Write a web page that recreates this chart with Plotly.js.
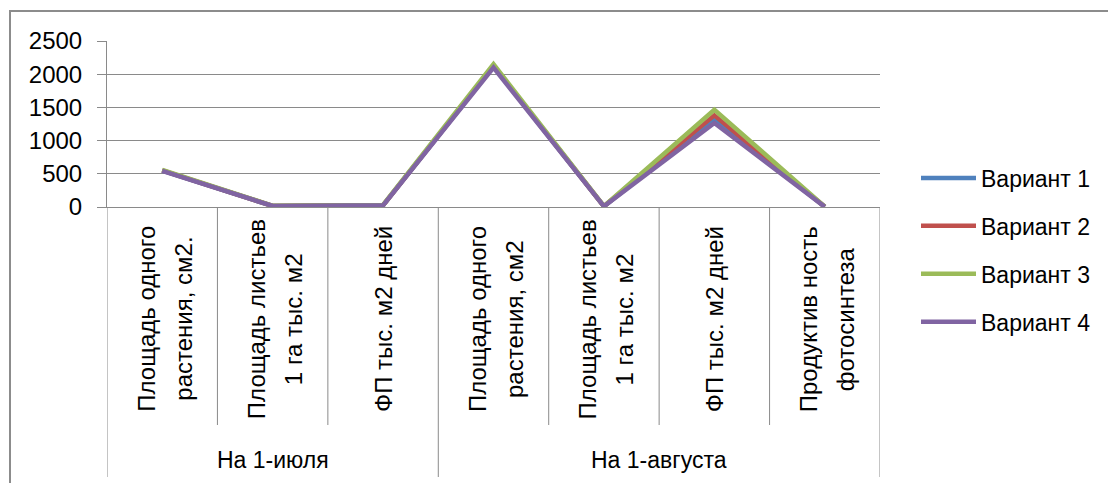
<!DOCTYPE html>
<html>
<head>
<meta charset="utf-8">
<script src="https://cdn.plot.ly/plotly-3.0.1.min.js"></script>
<style>
  html, body { margin: 0; padding: 0; background: #ffffff; }
  #chart { width: 1108px; height: 483px; }
</style>
</head>
<body>
<div id="chart"></div>
<script>
// ---- data ----
const categoryLines = [
  ["Площадь одного", "растения, см2."],
  ["Площадь листьев", "1 га тыс. м2"],
  ["ФП тыс. м2 дней"],
  ["Площадь одного", "растения, см2"],
  ["Площадь листьев", "1 га тыс. м2"],
  ["ФП тыс. м2 дней"],
  ["Продуктив ность", "фотосинтеза"]
];
const groupNames = ["На 1-июля", "На 1-августа"];
const groupSizes = [3, 4];

const seriesNames = ["Вариант 1", "Вариант 2", "Вариант 3", "Вариант 4"];
const variant1 = [548, 15, 25, 2120, 10, 1320, 3];
const variant2 = [552, 15, 25, 2125, 10, 1380, 3];
const variant3 = [560, 18, 30, 2150, 12, 1465, 4];
const variant4 = [545, 15, 25, 2100, 10, 1265, 3];
const seriesValues = [variant1, variant2, variant3, variant4];
const seriesColors = ["#4F81BD", "#C0504D", "#9BBB59", "#8064A2"];

const yTickValues = [0, 500, 1000, 1500, 2000, 2500];

// ---- geometry helpers (pixels -> paper) ----
const W = 1108, H = 483;
const L = 107, R = 880, T = 41, B = 207;
const pw = R - L, ph = B - T;
const px = v => (v - L) / pw;
const py = v => (B - v) / ph;

const FONT = "Liberation Sans, Arial, sans-serif";
const GRAY = "#8a8a8a";

const xIdx = categoryLines.map((_, i) => i);

const traces = seriesValues.map((vals, k) => ({
  type: "scatter",
  mode: "lines",
  x: xIdx,
  y: vals,
  name: seriesNames[k],
  legendgroup: "g" + k,
  line: { color: seriesColors[k], width: 4.5 },
  hoverinfo: "none"
}));

const shapes = [];
const annotations = [];

// inner dividers between categories
const groupBounds = [-0.5];
groupSizes.forEach(s => groupBounds.push(groupBounds[groupBounds.length - 1] + s));
for (let i = 0; i < categoryLines.length - 1; i++) {
  const xb = i + 0.5;
  if (groupBounds.includes(xb)) continue;
  shapes.push({ type: "line", xref: "x", yref: "paper", x0: xb, x1: xb,
    y0: 0, y1: py(425), line: { color: GRAY, width: 1 } });
}
// group dividers
groupBounds.forEach(xb => {
  shapes.push({ type: "line", xref: "x", yref: "paper", x0: xb, x1: xb,
    y0: 0, y1: py(477), line: { color: GRAY, width: 1 } });
});
// outer chart border
shapes.push({ type: "rect", xref: "paper", yref: "paper",
  x0: px(10), x1: px(1115), y0: py(492), y1: py(11),
  line: { color: "#8c8c8c", width: 2 } });

// category labels (rotated, one annotation per line)
const lineGap = 37;
categoryLines.forEach((lines, i) => {
  const n = lines.length;
  lines.forEach((txt, j) => {
    annotations.push({
      xref: "x", yref: "paper", x: i, y: py(319),
      text: txt, showarrow: false, textangle: -90,
      xanchor: "center", yanchor: "middle",
      xshift: (j - (n - 1) / 2) * lineGap + (n > 1 ? 2 : 0),
      font: { family: FONT, size: 24, color: "#000000" }
    });
  });
});
// group labels
groupNames.forEach((g, k) => {
  const c = (groupBounds[k] + groupBounds[k + 1]) / 2;
  annotations.push({
    xref: "x", yref: "paper", x: c, y: py(460),
    text: g, showarrow: false, xanchor: "center", yanchor: "middle",
    font: { family: FONT, size: 23, color: "#000000" }
  });
});

const layout = {
  width: W, height: H,
  margin: { l: L, r: W - R, t: T, b: H - B, pad: 0 },
  paper_bgcolor: "#ffffff",
  plot_bgcolor: "#ffffff",
  font: { family: FONT, size: 23, color: "#000000" },
  showlegend: true,
  legend: {
    x: px(916), xanchor: "left",
    y: py(250), yanchor: "middle",
    tracegroupgap: 15,
    font: { family: FONT, size: 23, color: "#000000" },
    bgcolor: "rgba(0,0,0,0)",
    itemwidth: 55
  },
  xaxis: {
    range: [-0.5, categoryLines.length - 0.5],
    showticklabels: false, showgrid: false, zeroline: false,
    showline: true, linecolor: GRAY, linewidth: 1, ticks: "",
    fixedrange: true
  },
  yaxis: {
    range: [0, 2500],
    tickvals: yTickValues,
    ticktext: yTickValues.map(String),
    showgrid: true, gridcolor: GRAY, gridwidth: 1,
    zeroline: false,
    showline: true, linecolor: GRAY, linewidth: 1,
    ticks: "outside", ticklen: 9, tickcolor: GRAY,
    ticklabelstandoff: 10,
    tickfont: { family: FONT, size: 24, color: "#000000" },
    fixedrange: true
  },
  shapes: shapes,
  annotations: annotations
};

Plotly.newPlot("chart", traces, layout, { staticPlot: true, displayModeBar: false });
</script>
</body>
</html>
